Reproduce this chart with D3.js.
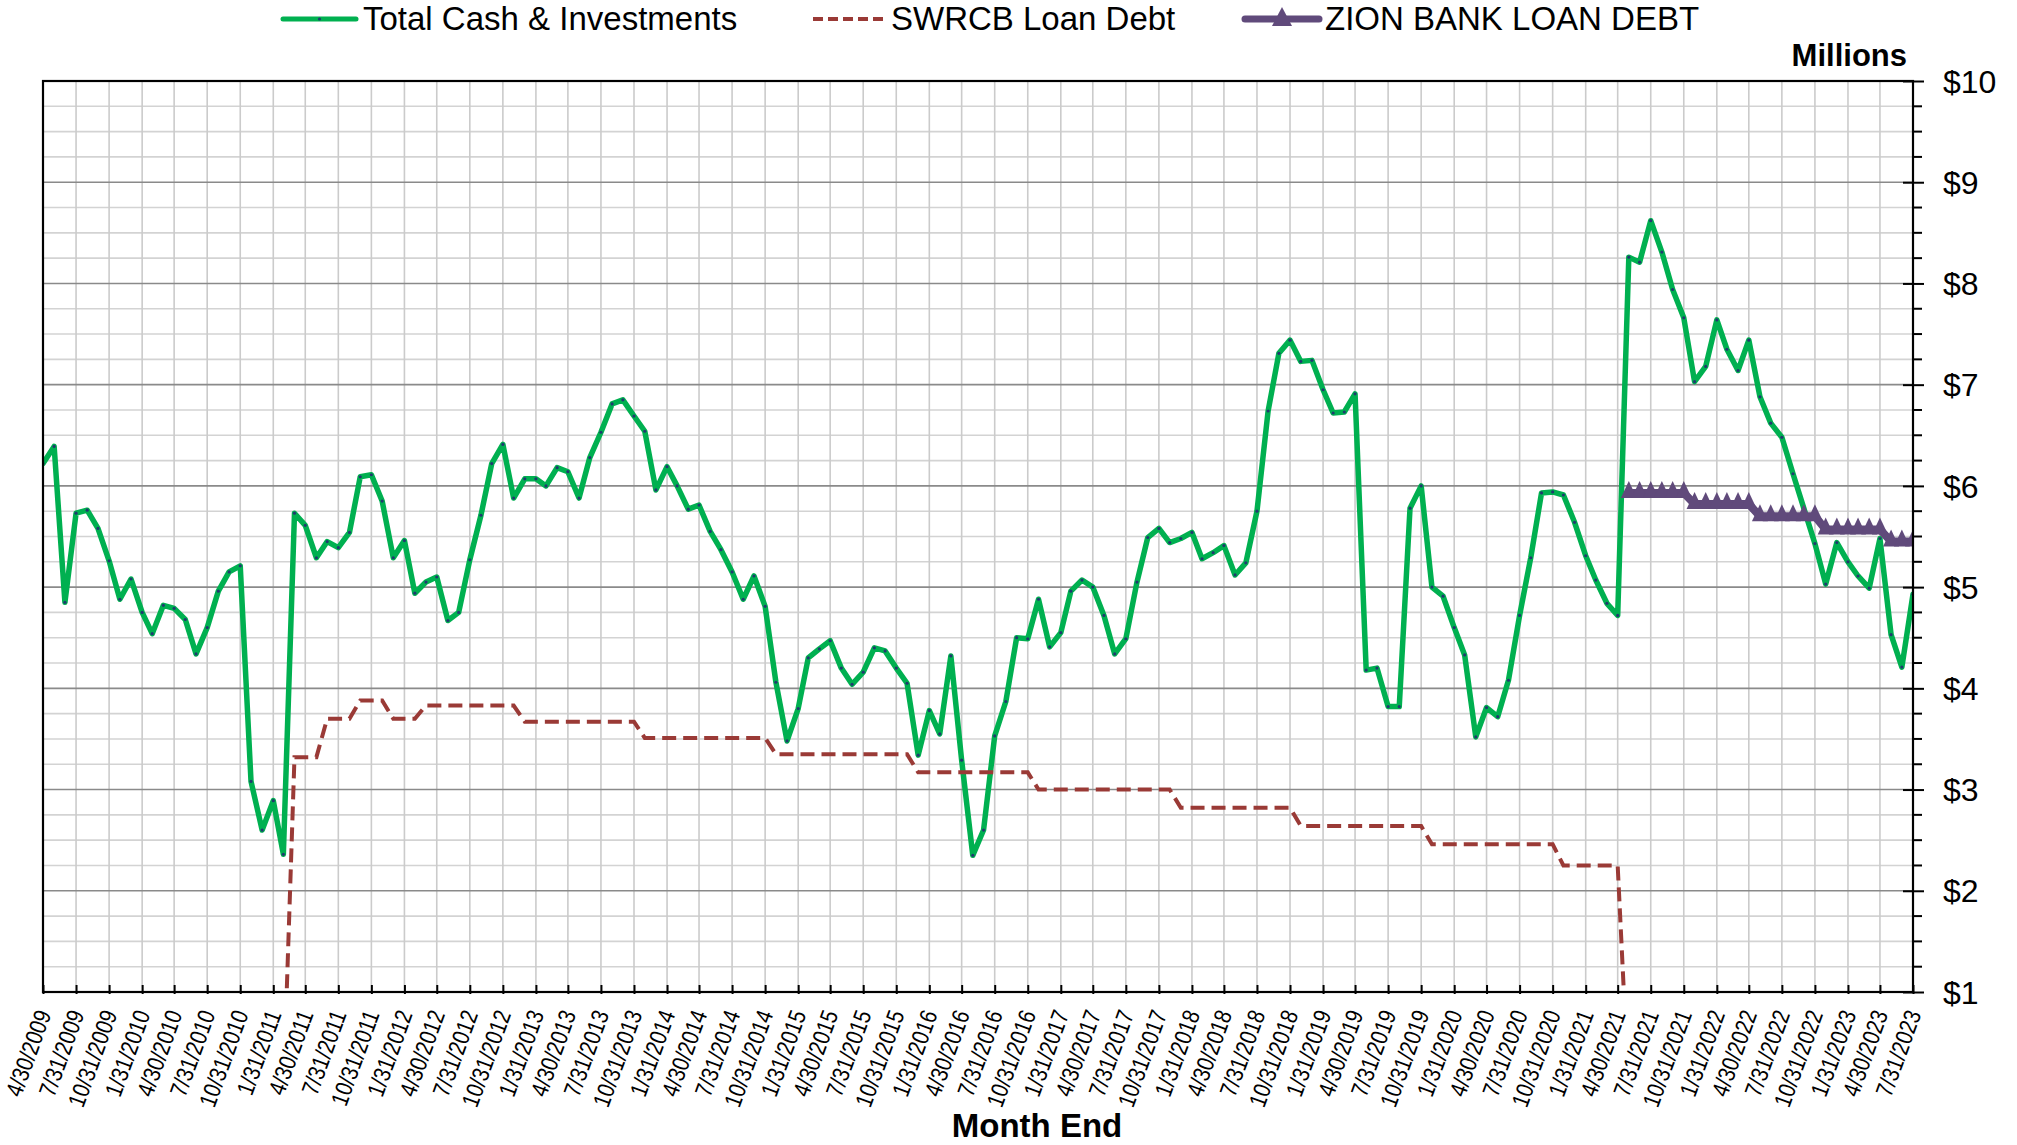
<!DOCTYPE html>
<html>
<head>
<meta charset="utf-8">
<script src="https://cdn.jsdelivr.net/npm/d3@7"></script>
<style>
  body { margin: 0; background: #ffffff; }
  svg { display: block; font-family: "Liberation Sans", Arial, sans-serif; }
</style>
</head>
<body>
<svg id="chart" width="2017" height="1145"></svg>
<script>
// ---------------- DATA ----------------
// Categories: month-end dates from 4/30/2009 to 7/31/2023 (172 months)
const firstYear = 2009;
const firstMonth = 4;          // April (1-based)
const monthCount = 172;

// Total Cash & Investments ($ millions), one value per month-end
const cashValues = [
  6.22, 6.39, 4.85, 5.73, 5.76, 5.58, 5.26, 4.88, 5.08, 4.75, 4.54, 4.82,
  4.79, 4.68, 4.34, 4.60, 4.96, 5.15, 5.21, 3.08, 2.60, 2.89, 2.36, 5.73,
  5.61, 5.29, 5.45, 5.39, 5.54, 6.09, 6.11, 5.85, 5.29, 5.46, 4.94, 5.05,
  5.10, 4.67, 4.75, 5.27, 5.71, 6.22, 6.41, 5.88, 6.07, 6.07, 6.00, 6.18,
  6.14, 5.88, 6.28, 6.53, 6.81, 6.85, 6.69, 6.54, 5.96, 6.19, 6.00, 5.77,
  5.81, 5.55, 5.37, 5.15, 4.88, 5.11, 4.81, 4.06, 3.48, 3.80, 4.30, 4.39,
  4.47, 4.20, 4.04, 4.16, 4.40, 4.37, 4.20, 4.05, 3.34, 3.78, 3.55, 4.32,
  3.29, 2.35, 2.60, 3.53, 3.87, 4.50, 4.49, 4.88, 4.41, 4.55, 4.96, 5.07,
  5.00, 4.72, 4.34, 4.49, 5.05, 5.49, 5.58, 5.44, 5.48, 5.54, 5.28, 5.34,
  5.41, 5.12, 5.24, 5.75, 6.74, 7.31, 7.44, 7.23, 7.24, 6.95, 6.72, 6.73,
  6.91, 4.18, 4.20, 3.82, 3.82, 5.78, 6.00, 5.00, 4.91, 4.60, 4.33, 3.52,
  3.81, 3.72, 4.08, 4.72, 5.29, 5.93, 5.94, 5.91, 5.64, 5.31, 5.07, 4.84,
  4.72, 8.26, 8.21, 8.62, 8.31, 7.94, 7.66, 7.03, 7.18, 7.64, 7.35, 7.14,
  7.44, 6.88, 6.62, 6.48, 6.12, 5.78, 5.43, 5.03, 5.44, 5.25, 5.11, 4.99,
  5.48, 4.53, 4.21, 4.93
];

// SWRCB Loan Debt ($ millions), starting at month index 22 (2/28/2011)
const swrcbFirstIndex = 22;
const swrcbValues = [
  0,
  3.32, 3.32, 3.32,
  3.70, 3.70, 3.70,
  3.88, 3.88, 3.88,
  3.70, 3.70, 3.70,
  3.83, 3.83, 3.83, 3.83, 3.83, 3.83, 3.83, 3.83, 3.83,
  3.67, 3.67, 3.67, 3.67, 3.67, 3.67, 3.67, 3.67, 3.67, 3.67, 3.67,
  3.51, 3.51, 3.51, 3.51, 3.51, 3.51, 3.51, 3.51, 3.51, 3.51, 3.51, 3.51,
  3.35, 3.35, 3.35, 3.35, 3.35, 3.35, 3.35, 3.35, 3.35, 3.35, 3.35, 3.35, 3.35,
  3.17, 3.17, 3.17, 3.17, 3.17, 3.17, 3.17, 3.17, 3.17, 3.17, 3.17,
  3.00, 3.00, 3.00, 3.00, 3.00, 3.00, 3.00, 3.00, 3.00, 3.00, 3.00, 3.00, 3.00,
  2.82, 2.82, 2.82, 2.82, 2.82, 2.82, 2.82, 2.82, 2.82, 2.82, 2.82,
  2.64, 2.64, 2.64, 2.64, 2.64, 2.64, 2.64, 2.64, 2.64, 2.64, 2.64, 2.64,
  2.46, 2.46, 2.46, 2.46, 2.46, 2.46, 2.46, 2.46, 2.46, 2.46, 2.46, 2.46,
  2.25, 2.25, 2.25, 2.25, 2.25, 2.25,
  0
];

// ZION BANK LOAN DEBT ($ millions), starting at month index 145 (5/31/2021)
const zionFirstIndex = 145;
const zionValues = [
  5.93, 5.93, 5.93, 5.93, 5.93, 5.93,
  5.82, 5.82, 5.82, 5.82, 5.82, 5.82,
  5.70, 5.70, 5.70, 5.70, 5.70, 5.70,
  5.57, 5.57, 5.57, 5.57, 5.57, 5.57,
  5.45, 5.45, 5.45
];

const seriesNames = ["Total Cash & Investments", "SWRCB Loan Debt", "ZION BANK LOAN DEBT"];
const yTickValues = [1, 2, 3, 4, 5, 6, 7, 8, 9, 10];
const tickEveryMonths = 3;

// ---------------- HELPERS ----------------
function monthEnd(i) { return new Date(firstYear, firstMonth + i, 0); }
const fmtDate = d => `${d.getMonth() + 1}/${d.getDate()}/${d.getFullYear()}`;

const dates = d3.range(monthCount).map(monthEnd);
const cashData = cashValues.map((v, i) => ({ date: dates[i], value: v }));
const swrcbData = swrcbValues.map((v, i) => ({ date: dates[swrcbFirstIndex + i], value: v }));
const zionData = zionValues.map((v, i) => ({ date: dates[zionFirstIndex + i], value: v }));
const tickDates = dates.filter((d, i) => i % tickEveryMonths === 0);

// ---------------- LAYOUT ----------------
const plot = { left: 43, right: 1913, top: 81, bottom: 992 };
const colors = { cash: "#00B050", swrcb: "#9A3A36", zion: "#604A7B", marker: "#1F3B6E" };

const svg = d3.select("#chart");
const x = d3.scaleTime().domain([dates[0], dates[monthCount - 1]]).range([plot.left, plot.right]);
const y = d3.scaleLinear().domain([1, 10]).range([plot.bottom, plot.top]);

svg.append("rect").attr("width", 2017).attr("height", 1145).attr("fill", "#fff");

// Grid: minor horizontal
const gridG = svg.append("g");
const minorY = d3.range(1, 10.001, 0.25).filter(v => Math.abs(v - Math.round(v)) > 1e-6);
gridG.selectAll("line.minor").data(minorY).join("line")
  .attr("x1", plot.left).attr("x2", plot.right)
  .attr("y1", d => y(d)).attr("y2", d => y(d))
  .attr("stroke", "#d3d3d3").attr("stroke-width", 1.6);
// vertical grid
gridG.selectAll("line.v").data(tickDates).join("line")
  .attr("x1", d => x(d)).attr("x2", d => x(d))
  .attr("y1", plot.top).attr("y2", plot.bottom)
  .attr("stroke", "#cbcbcb").attr("stroke-width", 1.6);
// major horizontal
gridG.selectAll("line.major").data(yTickValues).join("line")
  .attr("x1", plot.left).attr("x2", plot.right)
  .attr("y1", d => y(d)).attr("y2", d => y(d))
  .attr("stroke", "#8a8a8a").attr("stroke-width", 1.6);

// clip
svg.append("clipPath").attr("id", "plotClip").append("rect")
  .attr("x", plot.left).attr("y", plot.top)
  .attr("width", plot.right - plot.left).attr("height", plot.bottom - plot.top);

const line = d3.line().x(d => x(d.date)).y(d => y(d.value));
const series = svg.append("g").attr("clip-path", "url(#plotClip)");

// Green line
series.append("path").datum(cashData)
  .attr("d", line).attr("fill", "none")
  .attr("stroke", colors.cash).attr("stroke-width", 5.5)
  .attr("stroke-linejoin", "round").attr("stroke-linecap", "round");
series.selectAll("circle.cash").data(cashData).join("circle")
  .attr("cx", d => x(d.date)).attr("cy", d => y(d.value)).attr("r", 1.6)
  .attr("fill", colors.marker);

// SWRCB dashed
series.append("path").datum(swrcbData)
  .attr("d", line).attr("fill", "none")
  .attr("stroke", colors.swrcb).attr("stroke-width", 4)
  .attr("stroke-dasharray", "14,7");

// Zion
series.append("path").datum(zionData)
  .attr("d", line).attr("fill", "none")
  .attr("stroke", colors.zion).attr("stroke-width", 8);
const tri = (cx, cy, w = 8, up = 12, down = 5) =>
  `M${cx - w},${cy + down}L${cx},${cy - up}L${cx + w},${cy + down}Z`;
series.selectAll("path.zion").data(zionData).join("path")
  .attr("d", d => tri(x(d.date), y(d.value)))
  .attr("fill", colors.zion);

// Plot border
svg.append("rect")
  .attr("x", plot.left).attr("y", plot.top)
  .attr("width", plot.right - plot.left).attr("height", plot.bottom - plot.top)
  .attr("fill", "none").attr("stroke", "#000").attr("stroke-width", 2.2);

// Bottom axis
const xAxisG = svg.append("g").attr("transform", `translate(0,${plot.bottom})`)
  .call(d3.axisBottom(x).tickValues(tickDates).tickFormat(fmtDate).tickSizeInner(-7).tickSizeOuter(0));
xAxisG.select(".domain").remove();
xAxisG.selectAll(".tick line").attr("stroke", "#000").attr("stroke-width", 2).attr("y2", -7).attr("y1", 2);
xAxisG.selectAll(".tick text")
  .attr("x", 0).attr("y", 0).attr("dy", 0)
  .attr("text-anchor", "end")
  .attr("transform", "translate(8,22) rotate(-70) scale(0.84,1)")
  .attr("font-size", 24).attr("fill", "#000")
  .attr("font-family", "Liberation Sans, Arial, sans-serif");

// Right axis
const yAxisG = svg.append("g").attr("transform", `translate(${plot.right},0)`)
  .call(d3.axisRight(y).tickValues(yTickValues).tickFormat(d => "$" + d).tickSize(11).tickPadding(19));
yAxisG.select(".domain").remove();
yAxisG.selectAll(".tick line").attr("x1", -10).attr("x2", 11).attr("stroke", "#000").attr("stroke-width", 2);
yAxisG.selectAll(".tick text")
  .attr("font-size", 32).attr("fill", "#000").attr("dy", "0.35em")
  .attr("font-family", "Liberation Sans, Arial, sans-serif");
yAxisG.selectAll("line.minorTick").data(minorY).join("line")
  .attr("x1", 0).attr("x2", 9).attr("y1", d => y(d)).attr("y2", d => y(d))
  .attr("stroke", "#000").attr("stroke-width", 2);

// Titles
svg.append("text").attr("x", 1907).attr("y", 66).attr("text-anchor", "end")
  .attr("font-size", 31).attr("font-weight", "bold").text("Millions");
svg.append("text").attr("x", 1037).attr("y", 1137).attr("text-anchor", "middle")
  .attr("font-size", 33).attr("font-weight", "bold").text("Month End");

// Legend
const legendY = 19;
const legend = svg.append("g");
const legendItems = [
  { name: seriesNames[0], x0: 283, x1: 356, tx: 363, kind: "cash" },
  { name: seriesNames[1], x0: 813, x1: 885, tx: 891, kind: "swrcb" },
  { name: seriesNames[2], x0: 1245, x1: 1319, tx: 1325, kind: "zion" }
];
legendItems.forEach(it => {
  const l = legend.append("line").attr("x1", it.x0).attr("x2", it.x1)
    .attr("y1", legendY).attr("y2", legendY);
  if (it.kind === "cash") {
    l.attr("stroke", colors.cash).attr("stroke-width", 5).attr("stroke-linecap", "round");
    legend.append("circle").attr("cx", (it.x0 + it.x1) / 2).attr("cy", legendY).attr("r", 1.6).attr("fill", colors.marker);
  } else if (it.kind === "swrcb") {
    l.attr("stroke", colors.swrcb).attr("stroke-width", 4).attr("stroke-dasharray", "10,5");
  } else {
    l.attr("stroke", colors.zion).attr("stroke-width", 7).attr("stroke-linecap", "round");
    legend.append("path").attr("d", tri((it.x0 + it.x1) / 2, legendY, 10, 12, 7)).attr("fill", colors.zion);
  }
  legend.append("text").attr("x", it.tx).attr("y", legendY + 11)
    .attr("font-size", 33).attr("fill", "#000").text(it.name);
});
</script>
</body>
</html>
